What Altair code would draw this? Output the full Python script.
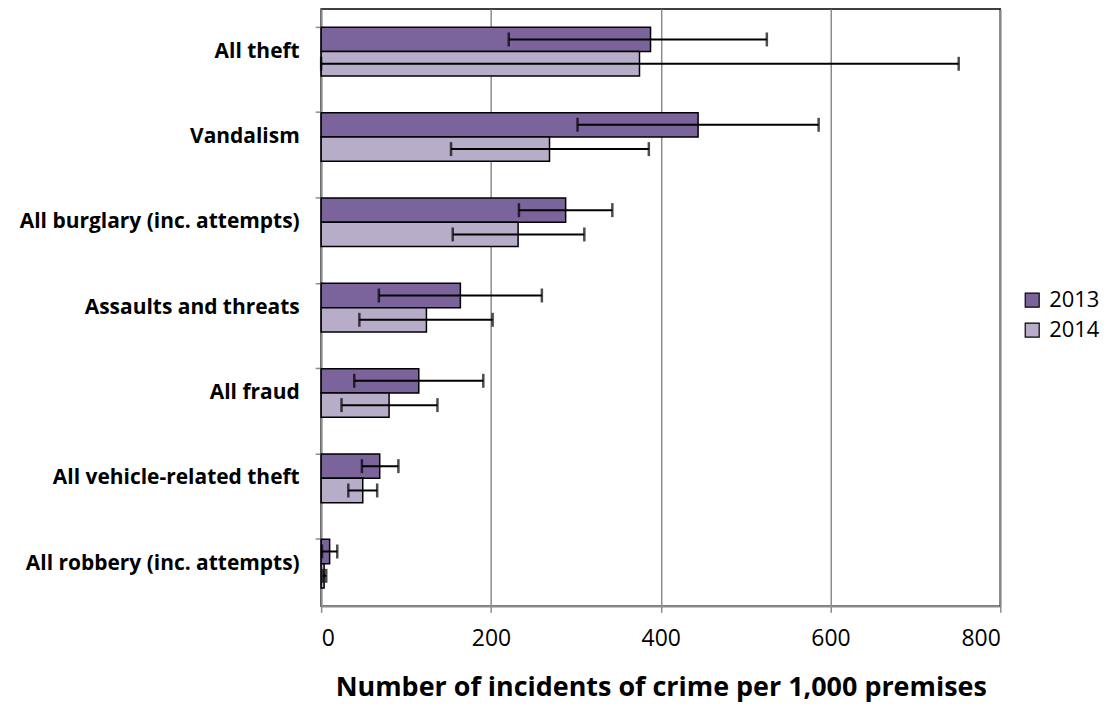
import altair as alt
import pandas as pd

categories = ["All theft", "Vandalism", "All burglary (inc. attempts)", "Assaults and threats",
              "All fraud", "All vehicle-related theft", "All robbery (inc. attempts)"]
years = ["2013", "2014"]
val_2013 = [388, 444, 288, 164, 115, 69, 10]
lo_2013 = [221, 302, 233, 68, 39, 48, 1]
hi_2013 = [525, 586, 343, 260, 191, 91, 19]
val_2014 = [375, 269, 232, 124, 80, 49, 3.5]
lo_2014 = [0, 153, 155, 45, 24, 32, 2]
hi_2014 = [751, 386, 310, 202, 137, 66, 6]

rows = []
for i, c in enumerate(categories):
    rows.append(dict(cat=c, year="2013", v=val_2013[i], lo=lo_2013[i], hi=hi_2013[i]))
    rows.append(dict(cat=c, year="2014", v=val_2014[i], lo=lo_2014[i], hi=hi_2014[i]))
df = pd.DataFrame(rows)

FONT = "Open Sans"
colors = ["#7B639B", "#B7ADC8"]
GRAY = "#8c8c8c"

yenc = alt.Y("cat:N", sort=categories,
             scale=alt.Scale(paddingInner=0.43, paddingOuter=0.215),
             axis=alt.Axis(title=None, labelFontSize=21, labelFontWeight="bold", labelFont=FONT,
                           labelColor="black", labelPadding=16, labelLimit=400,
                           domainColor=GRAY, domainWidth=1.5, tickColor=GRAY,
                           tickWidth=1.5, tickSize=6, bandPosition=0))
yoff = alt.YOffset("year:N", sort=years)
xscale = alt.Scale(domain=[0, 800], nice=False)

base = alt.Chart(df)

bars = base.mark_bar(stroke="black", strokeWidth=1.5).encode(
    x=alt.X("v:Q", scale=xscale,
            axis=alt.Axis(values=[0, 200, 400, 600, 800], title="Number of incidents of crime per 1,000 premises",
                          titleFontSize=27, titleFontWeight="bold", titleFont=FONT, titleColor="black",
                          titlePadding=24, labelFontSize=23, labelFont=FONT, labelColor="black",
                          labelPadding=15, domainColor=GRAY, domainWidth=1.5,
                          tickColor=GRAY, tickWidth=1.5, tickSize=6,
                          grid=True, gridColor=GRAY, gridWidth=1.5)),
    y=yenc,
    yOffset=yoff,
    color=alt.Color("year:N", sort=years, scale=alt.Scale(domain=years, range=colors),
                    legend=alt.Legend(title=None, orient="none", legendX=702, legendY=281,
                                      symbolType="square", symbolSize=196, symbolStrokeColor="black",
                                      symbolStrokeWidth=1.2, labelFontSize=22, labelFont=FONT,
                                      labelColor="black", rowPadding=8, labelOffset=6)),
)

err = base.mark_rule(color="black", strokeWidth=2).encode(
    x=alt.X("lo:Q", scale=xscale), x2="hi:Q", y=alt.Y("cat:N", sort=categories), yOffset=yoff)

cap_lo = base.mark_tick(color="black", thickness=2.5, size=14).encode(
    x=alt.X("lo:Q", scale=xscale), y=alt.Y("cat:N", sort=categories), yOffset=yoff)
cap_hi = base.mark_tick(color="black", thickness=2.5, size=14).encode(
    x=alt.X("hi:Q", scale=xscale), y=alt.Y("cat:N", sort=categories), yOffset=yoff)

chart = alt.layer(bars, err, cap_lo, cap_hi).properties(
    width=681, height=599,
    background="white",
    autosize=alt.AutoSizeParams(type="none"),
    padding={"left": 314, "top": 0, "right": 110, "bottom": 100},
).configure_view(stroke="black", strokeWidth=1.5)

chart.save("out.html", embed_options={"renderer": "svg", "actions": False})
